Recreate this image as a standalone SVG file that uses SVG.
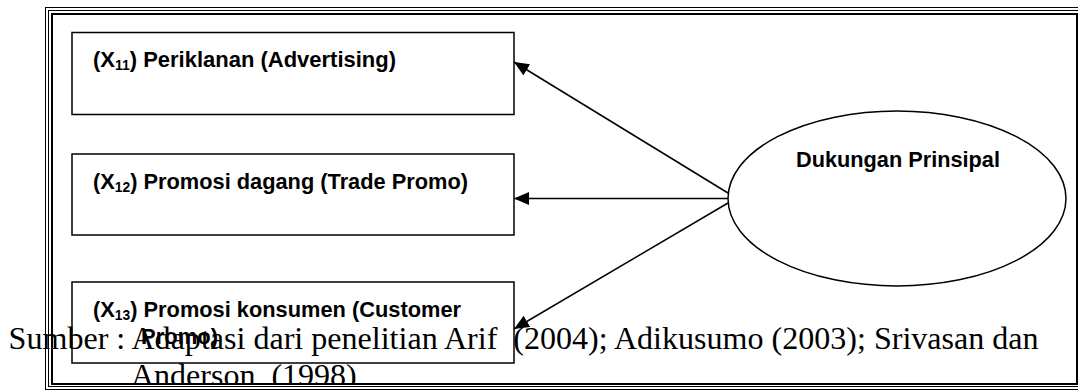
<svg xmlns="http://www.w3.org/2000/svg" width="1078" height="390" viewBox="0 0 1078 390">
  <style>
    .box { fill: none; stroke: #000; stroke-width: 1.5; }
    .lbl { font-family: "Liberation Sans", Arial, sans-serif; font-weight: bold; font-size: 22px; fill: #000; }
    .sub { font-size: 14px; }
    .src { font-family: "Liberation Serif", "Times New Roman", serif; font-size: 32px; fill: #000; white-space: pre; }
    .conn { stroke: #000; stroke-width: 1.5; fill: none; marker-end: url(#arrow); }
    .frame { fill: none; stroke: #000; }
  </style>
  <defs>
    <marker id="arrow" markerUnits="userSpaceOnUse" markerWidth="16" markerHeight="14" refX="15" refY="6.5" orient="auto">
      <path d="M0,0 L15,6.5 L0,13 Z" fill="#000"/>
    </marker>
  </defs>
  <rect width="1078" height="390" fill="#fff"/>

  <g id="node-x11">
    <rect class="box" x="72" y="32.5" width="442" height="82"/>
    <text class="lbl" x="93" y="66.7" textLength="303" lengthAdjust="spacingAndGlyphs">(X<tspan class="sub" dy="3">11</tspan><tspan dy="-3">) Periklanan (Advertising)</tspan></text>
  </g>
  <g id="node-x12">
    <rect class="box" x="72" y="154" width="442" height="81"/>
    <text class="lbl" x="93" y="189" textLength="375" lengthAdjust="spacingAndGlyphs">(X<tspan class="sub" dy="3">12</tspan><tspan dy="-3">) Promosi dagang (Trade Promo)</tspan></text>
  </g>
  <g id="node-x13">
    <rect class="box" x="72" y="282" width="442" height="81"/>
    <text class="lbl" x="93" y="316.5" textLength="368" lengthAdjust="spacingAndGlyphs">(X<tspan class="sub" dy="3">13</tspan><tspan dy="-3">) Promosi konsumen (Customer</tspan></text>
    <text class="lbl" x="141" y="344">Promo)</text>
  </g>
  <g id="node-dukungan">
    <ellipse cx="897" cy="198.5" rx="169" ry="87.5" fill="#fff" stroke="#000" stroke-width="1.5"/>
    <text class="lbl" x="796" y="167.3" textLength="204" lengthAdjust="spacingAndGlyphs">Dukungan Prinsipal</text>
  </g>
  <g id="connectors">
    <line class="conn" x1="728" y1="193" x2="514" y2="62"/>
    <line class="conn" x1="728" y1="198.5" x2="514" y2="198.5"/>
    <line class="conn" x1="728" y1="203" x2="514" y2="329"/>
  </g>

  <text class="src" x="8.6" y="349" textLength="1030" lengthAdjust="spacingAndGlyphs">Sumber : Adaptasi dari penelitian Arif  (2004); Adikusumo (2003); Srivasan dan</text>
  <text class="src" x="131" y="386">Anderson, (1998)</text>

  <g id="frame">
    <rect x="40" y="383" width="1040" height="7" fill="#fff"/>
    <rect class="frame" x="45.5" y="7.5" width="1038" height="382" stroke-width="1"/>
    <rect class="frame" x="48.5" y="10.5" width="1032" height="376" stroke-width="1"/>
    <rect class="frame" x="52" y="14" width="1025" height="370" stroke-width="2"/>
  </g>
</svg>
